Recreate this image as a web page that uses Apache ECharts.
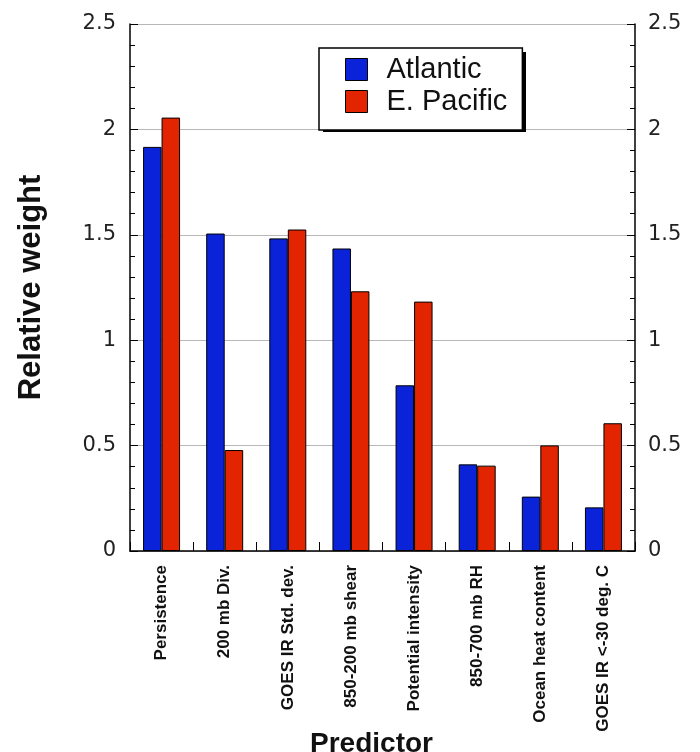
<!DOCTYPE html>
<html>
<head>
<meta charset="utf-8">
<script src="https://cdn.jsdelivr.net/npm/echarts@6/dist/echarts.min.js"></script>
<style>html,body{margin:0;padding:0;background:#fff;}#c{width:700px;height:752px;}</style>
</head>
<body>
<div id="c"></div>
<script>
const categories = ['Persistence','200 mb Div.','GOES IR Std. dev.','850-200 mb shear','Potential intensity','850-700 mb RH','Ocean heat content','GOES IR <-30 deg. C'];
const atlantic = [1.917, 1.506, 1.483, 1.435, 0.786, 0.411, 0.258, 0.207];
const ePacific = [2.056, 0.479, 1.525, 1.232, 1.183, 0.405, 0.501, 0.606];
const seriesNames = ['Atlantic', 'E. Pacific'];
const yMin = 0, yMax = 2.5, yStep = 0.5;

const chart = echarts.init(document.getElementById('c'), null, {renderer: 'canvas'});
const yAxisCommon = {
  type: 'value', min: yMin, max: yMax, interval: yStep,
  axisLine: {show: true, lineStyle: {color: '#000', width: 1.5}},
  axisTick: {show: true, inside: true, length: 8, lineStyle: {color: '#000', width: 1}},
  minorTick: {show: true, splitNumber: 5, length: 5, lineStyle: {color: '#000', width: 1}},
  axisLabel: {fontFamily: 'DejaVu Sans', fontSize: 21, color: '#222', formatter: v => String(v)}
};
chart.setOption({
  animation: false,
  backgroundColor: '#fff',
  grid: {left: 130, right: 65, top: 24, bottom: 201, containLabel: false, outerBoundsMode: 'none'},
  graphic: [{
    type: 'rect', z: 3, silent: true,
    shape: {x: 323, y: 52, width: 203, height: 80},
    style: {fill: '#000'}
  }],
  legend: {
    left: 319, top: 48, orient: 'vertical', z: 5,
    data: seriesNames, icon: 'rect',
    itemWidth: 22, itemHeight: 22, itemGap: 3,
    padding: [7, 15, 14, 26],
    borderColor: '#000', borderWidth: 1.5, backgroundColor: '#fff',
    textStyle: {fontFamily: 'Liberation Sans', fontSize: 29, color: '#111', padding: [0, 0, 0, 14]},
    itemStyle: {borderColor: '#000', borderWidth: 1}
  },
  xAxis: {
    type: 'category', data: categories, boundaryGap: true,
    name: 'Predictor', nameLocation: 'middle', nameGap: 179, nameMoveOverlap: false,
    nameTextStyle: {fontFamily: 'Liberation Sans', fontWeight: 'bold', fontSize: 28, color: '#111', padding: [0, 22, 0, 0]},
    axisLine: {lineStyle: {color: '#000', width: 1.5}},
    axisTick: {show: true, inside: true, length: 9, alignWithLabel: false, lineStyle: {color: '#000'}},
    axisLabel: {rotate: 90, margin: 14, interval: 0, fontFamily: 'Liberation Sans', fontWeight: 'bold', fontSize: 17, color: '#111'}
  },
  yAxis: [
    Object.assign({}, yAxisCommon, {
      position: 'left',
      name: 'Relative weight', nameLocation: 'middle', nameGap: 83, nameMoveOverlap: false,
      nameTextStyle: {fontFamily: 'Liberation Sans', fontWeight: 'bold', fontSize: 31, color: '#111'},
      axisLabel: Object.assign({}, yAxisCommon.axisLabel, {margin: 14}),
      splitLine: {show: true, lineStyle: {color: '#b8b8b8', width: 1.2}}
    }),
    Object.assign({}, yAxisCommon, {
      position: 'right',
      axisLabel: Object.assign({}, yAxisCommon.axisLabel, {margin: 13}),
      splitLine: {show: false}
    })
  ],
  series: [
    {name: seriesNames[0], type: 'bar', data: atlantic, yAxisIndex: 0, barWidth: '29.3%', barGap: '0%',
     itemStyle: {color: '#0a23d9', borderColor: '#000', borderWidth: 1}},
    {name: seriesNames[1], type: 'bar', data: ePacific, yAxisIndex: 0, barWidth: '29.3%', barGap: '0%',
     itemStyle: {color: '#e32400', borderColor: '#000', borderWidth: 1}}
  ]
});
</script>
</body>
</html>
